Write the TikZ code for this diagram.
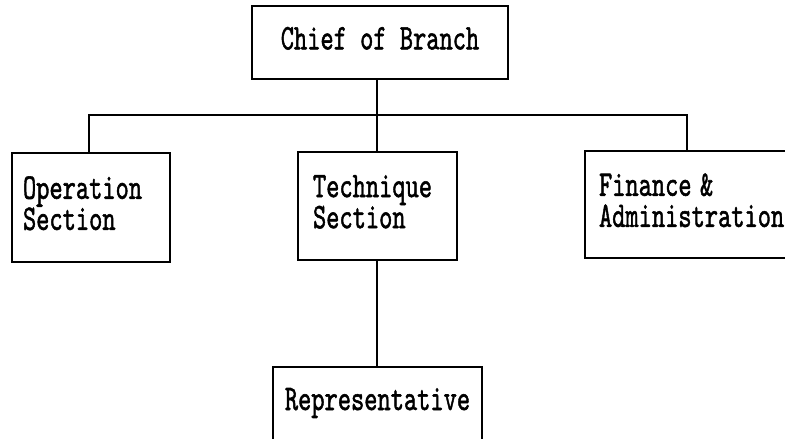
\documentclass[tikz,border=0pt]{standalone}
\usepackage{graphicx}
\usepackage{fontspec}
\newfontfamily\orgfont{lmmono10-regular.otf}[FakeBold=1.6]
\newcommand{\orgtext}[1]{\scalebox{0.70}[1]{\begin{tabular}{@{}l@{}}#1\end{tabular}}}
\begin{document}
\begin{tikzpicture}[x=1pt,y=-1pt,
  orgbox/.style={draw, line width=1.1pt, rectangle, inner sep=0pt,
    font=\orgfont\fontsize{36}{29}\selectfont},
  leftbox/.style={orgbox, text width=#1, align=left},
  link/.style={line width=1.1pt}]
  \clip (0,0) rectangle (785,439);
  \fill[white] (0,0) rectangle (785,439);

  \node[orgbox, minimum width=256pt, minimum height=73pt] (chief) at (380,42.5)
    {\orgtext{Chief of Branch}};
  \node[leftbox=136pt, minimum width=158pt, minimum height=109pt] (op) at (91,207.5)
    {\orgtext{Operation\\Section}};
  \node[leftbox=129pt, minimum width=159pt, minimum height=108pt] (tech) at (377.5,206)
    {\orgtext{Technique\\Section}};
  \node[leftbox=187pt, minimum width=215pt, minimum height=107pt] (fin) at (692.5,204.5)
    {\orgtext{Finance \&\\Administration}};
  \node[orgbox, minimum width=209pt, minimum height=93pt,
        text height=24pt, text depth=31pt] (rep) at (377.5,413.5)
    {\scalebox{0.70}[1]{Representative}};

  \coordinate (bus) at (377,115);
  \draw[link] (chief.south -| bus) -- (bus);
  \draw[link] (op.north -| 89,0) |- (bus) -| (fin.north -| 687,0);
  \draw[link] (bus) -- (tech.north -| bus);
  \draw[link] (tech.south -| bus) -- (rep.north -| bus);
\end{tikzpicture}
\end{document}
